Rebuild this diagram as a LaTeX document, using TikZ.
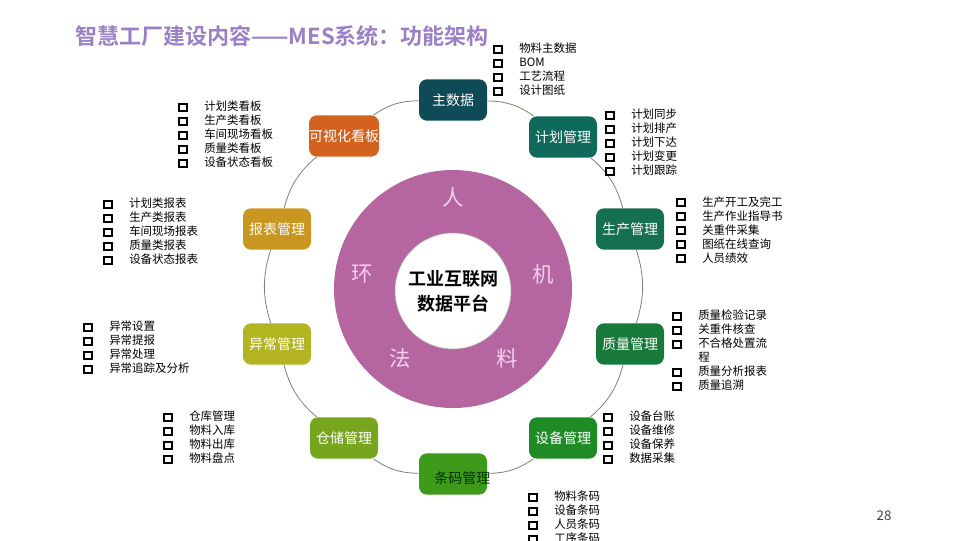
\documentclass[tikz,border=0pt]{standalone}
\usepackage{fontspec}
\setmainfont{Noto Sans CJK SC}[BoldFont={Noto Sans CJK SC Bold}]
\usetikzlibrary{positioning}
\definecolor{titlec}{HTML}{9A80C6}
\definecolor{ringc}{HTML}{B566A1}
\definecolor{ringtxt}{HTML}{F6CFEC}
\definecolor{linec}{HTML}{7F8272}
\definecolor{zsjc}{HTML}{0E4B57}
\definecolor{jhglc}{HTML}{0F6A5C}
\definecolor{scglc}{HTML}{15704F}
\definecolor{zlglc}{HTML}{17793A}
\definecolor{sbglc}{HTML}{1F8B25}
\definecolor{tmglc}{HTML}{3E9A19}
\definecolor{ccglc}{HTML}{78A51E}
\definecolor{ycglc}{HTML}{B3B421}
\definecolor{bbglc}{HTML}{C9961F}
\definecolor{kshc}{HTML}{D3621F}
% hollow square bullet plus gap
\newcommand{\sq}{\makebox[19.5pt][l]{\setlength{\fboxsep}{0pt}\setlength{\fboxrule}{1.5pt}\raisebox{0.6pt}{\fbox{\rule{0pt}{4.2pt}\rule{4.2pt}{0pt}}}}}
\newcommand{\nosq}{\hspace*{19.5pt}}

\begin{document}
\begin{tikzpicture}[x=0.75pt, y=-0.75pt,
  mod/.style={rounded corners=6pt, minimum width=51pt, minimum height=31pt, inner sep=0pt,
              text=white, font=\fontsize{10.5}{12}\selectfont},
  lst/.style={anchor=north west, inner sep=0pt, align=left, font=\fontsize{8.6}{10.5}\selectfont},
  conn/.style={draw=linec, line width=0.6pt},
  ml/.style={text=ringtxt, font=\fontsize{16}{16}\selectfont}]
\useasboundingbox (0,0) rectangle (960,540);
% title
\node[anchor=west, inner sep=0pt, text=titlec, font=\fontsize{16.5}{16.5}\selectfont\bfseries] (title) at (75,36)
  {智慧工厂建设内容——MES系统：功能架构};
% centre ring
\node[circle, fill=ringc, minimum size=178.5pt, inner sep=0pt] (ring) at (453,289) {};
\node[circle, fill=white, draw=gray!60, minimum size=87pt, inner sep=0pt, align=center,
      font=\fontsize{13.5}{18.5}\selectfont\bfseries] (core) at (453,291) {工业互联网\\数据平台};
\node[ml] (ren)  at (453,197) {人};
\node[ml] (ji)   at (543,274) {机};
\node[ml] (liao) at (507,358) {料};
\node[ml] (fa)   at (400,358) {法};
\node[ml] (huan) at (362,274) {环};
% modules round the ring
\node[mod, fill=zsjc]  (zsj)  at (453,100) {主数据};
\node[mod, fill=jhglc] (jhgl) at (563,137) {计划管理};
\node[mod, fill=scglc] (scgl) at (630,229) {生产管理};
\node[mod, fill=zlglc] (zlgl) at (630,344) {质量管理};
\node[mod, fill=sbglc] (sbgl) at (563,438) {设备管理};
\node[mod, fill=tmglc, label={[text=black!80!green, font=\fontsize{10.5}{12}\selectfont,
      xshift=7pt, yshift=-3pt]center:条码管理}] (tmgl) at (453,474) {};
\node[mod, fill=ccglc] (ccgl) at (344,438) {仓储管理};
\node[mod, fill=ycglc] (ycgl) at (277,344) {异常管理};
\node[mod, fill=bbglc] (bbgl) at (277,229) {报表管理};
\node[mod, fill=kshc]  (ksh)  at (344,136) {可视化看板};
\foreach \a/\b in {zsj/jhgl, jhgl/scgl, scgl/zlgl, zlgl/sbgl, sbgl/tmgl,
                   tmgl/ccgl, ccgl/ycgl, ycgl/bbgl, bbgl/ksh, ksh/zsj}
  \draw[conn] (\a) to[bend left=17] (\b);
% function lists
\node[lst] (zsj-l)  at (493,43)  {\sq 物料主数据\\\sq BOM\\\sq 工艺流程\\\sq 设计图纸};
\node[lst] (jhgl-l) at (605,109) {\sq 计划同步\\\sq 计划排产\\\sq 计划下达\\\sq 计划变更\\\sq 计划跟踪};
\node[lst] (scgl-l) at (676,196) {\sq 生产开工及完工\\\sq 生产作业指导书\\\sq 关重件采集\\\sq 图纸在线查询\\\sq 人员绩效};
\node[lst] (zlgl-l) at (672,310) {\sq 质量检验记录\\\sq 关重件核查\\\sq 不合格处置流\\\nosq 程\\\sq 质量分析报表\\\sq 质量追溯};
\node[lst] (sbgl-l) at (603,411) {\sq 设备台账\\\sq 设备维修\\\sq 设备保养\\\sq 数据采集};
\node[lst] (tmgl-l) at (528,491) {\sq 物料条码\\\sq 设备条码\\\sq 人员条码\\\sq 工序条码};
\node[lst] (ccgl-l) at (163,411) {\sq 仓库管理\\\sq 物料入库\\\sq 物料出库\\\sq 物料盘点};
\node[lst] (ycgl-l) at (83,321)  {\sq 异常设置\\\sq 异常提报\\\sq 异常处理\\\sq 异常追踪及分析};
\node[lst] (bbgl-l) at (103,198) {\sq 计划类报表\\\sq 生产类报表\\\sq 车间现场报表\\\sq 质量类报表\\\sq 设备状态报表};
\node[lst] (ksh-l)  at (178,101) {\sq 计划类看板\\\sq 生产类看板\\\sq 车间现场看板\\\sq 质量类看板\\\sq 设备状态看板};
% page number
\node[text=black!75, font=\fontsize{10}{12}\selectfont] (pg) at (884,516) {28};
\end{tikzpicture}
\end{document}
